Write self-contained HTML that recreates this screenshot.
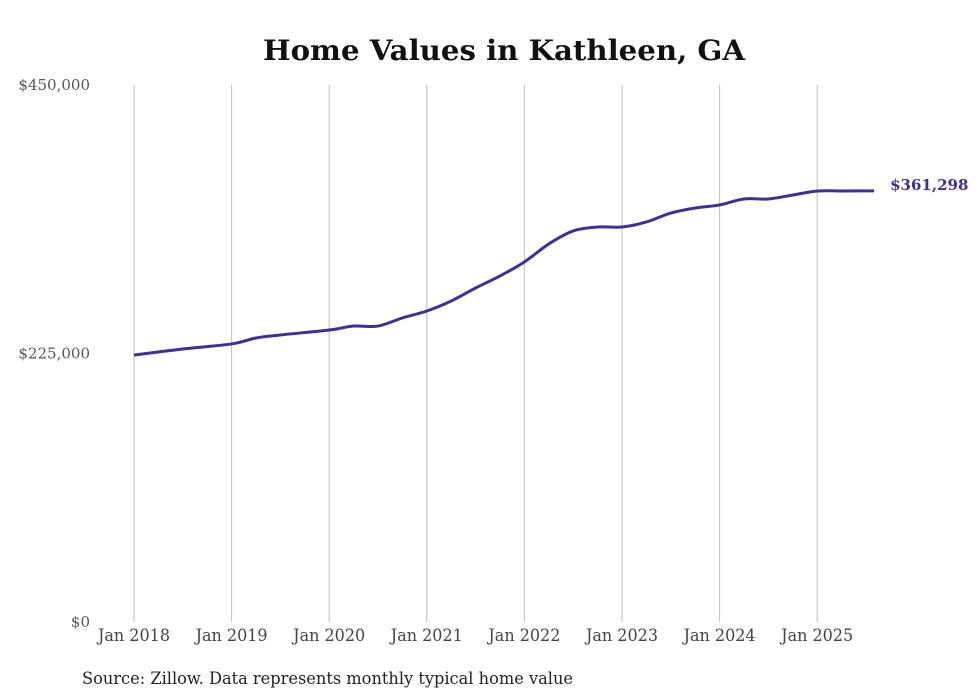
<!DOCTYPE html>
<html><head><meta charset="utf-8"><style>
body{margin:0;background:#fff;width:980px;height:699px;overflow:hidden}
svg{display:block}
</style></head><body>
<svg id="chart" width="980" height="699">
<text x="504" y="60" text-anchor="middle" textLength="482" lengthAdjust="spacingAndGlyphs" font-family="DejaVu Serif, Liberation Serif, serif" font-weight="bold" font-size="28" fill="#111">Home Values in Kathleen, GA</text>
<g id="grid"></g><g id="yticks"></g><g id="xticks"></g><g id="series"></g>
<text x="82" y="684" textLength="491" lengthAdjust="spacingAndGlyphs" font-family="DejaVu Serif Condensed, DejaVu Serif, serif" font-stretch="condensed" font-size="17" fill="#222">Source: Zillow. Data represents monthly typical home value</text>
</svg>
<script>
const xLabels=["Jan 2018","Jan 2019","Jan 2020","Jan 2021","Jan 2022","Jan 2023","Jan 2024","Jan 2025"];
const yTickValues=[0,225000,450000];
const yTickLabels=["$0","$225,000","$450,000"];
const times=[0,0.5,1,1.25,1.5,2,2.25,2.5,2.75,3,3.25,3.5,3.75,4,4.25,4.5,4.75,5,5.25,5.5,5.75,6,6.25,6.5,6.75,7,7.25,7.583];
const values=[223700,228800,233000,238000,240500,244700,248000,248000,254800,260600,269000,279900,290000,301700,316800,327700,331000,331000,335200,342700,346900,349500,354500,354500,357800,361200,361200,361298];
const lastLabel="$361,298";
const NS="http://www.w3.org/2000/svg";
const x=t=>134+t*97.6;
const y=v=>622-v/450000*537;
function mk(tag,attrs,parent){const e=document.createElementNS(NS,tag);for(const k in attrs)e.setAttribute(k,attrs[k]);parent.appendChild(e);return e;}
const grid=document.getElementById('grid'),xt=document.getElementById('xticks'),yt=document.getElementById('yticks'),se=document.getElementById('series');
xLabels.forEach((l,i)=>{
 const g=mk('line',{x1:x(i),x2:x(i),y1:85,y2:622,stroke:'#bdbdbd','stroke-width':1},grid);
 
 
 const t=mk('text',{x:x(i),y:641,'text-anchor':'middle',textLength:72,lengthAdjust:'spacingAndGlyphs','font-family':'DejaVu Serif Condensed, DejaVu Serif, serif','font-stretch':'condensed','font-size':17,fill:'#444'},xt);
 t.textContent=l;
 
 
});
yTickValues.forEach((v,i)=>{
 const t=mk('text',{x:90,y:y(v)+5,'text-anchor':'end','font-family':'DejaVu Serif, Liberation Serif, serif','font-size':15,fill:'#555'},yt);
 t.textContent=yTickLabels[i];
 
 
});
const pts=times.map((t,i)=>[x(t),y(values[i])]);
let d=`M${pts[0][0]},${pts[0][1]}`;
for(let i=0;i<pts.length-1;i++){
 const p0=pts[Math.max(i-1,0)],p1=pts[i],p2=pts[i+1],p3=pts[Math.min(i+2,pts.length-1)];
 const c1=[p1[0]+(p2[0]-p0[0])/6,p1[1]+(p2[1]-p0[1])/6],c2=[p2[0]-(p3[0]-p1[0])/6,p2[1]-(p3[1]-p1[1])/6];
 d+=` C${c1[0]},${c1[1]} ${c2[0]},${c2[1]} ${p2[0]},${p2[1]}`;
}
const path=mk('path',{d:d,fill:'none',stroke:'#3d3192','stroke-width':3,'stroke-linejoin':'round'},se);


const lp=pts[pts.length-1];
const lt=mk('text',{x:lp[0]+16,y:lp[1]-1,'font-family':'DejaVu Serif, Liberation Serif, serif','font-weight':'bold','font-size':15,fill:'#3d3192'},se);
lt.textContent=lastLabel;


</script>
</body></html>
